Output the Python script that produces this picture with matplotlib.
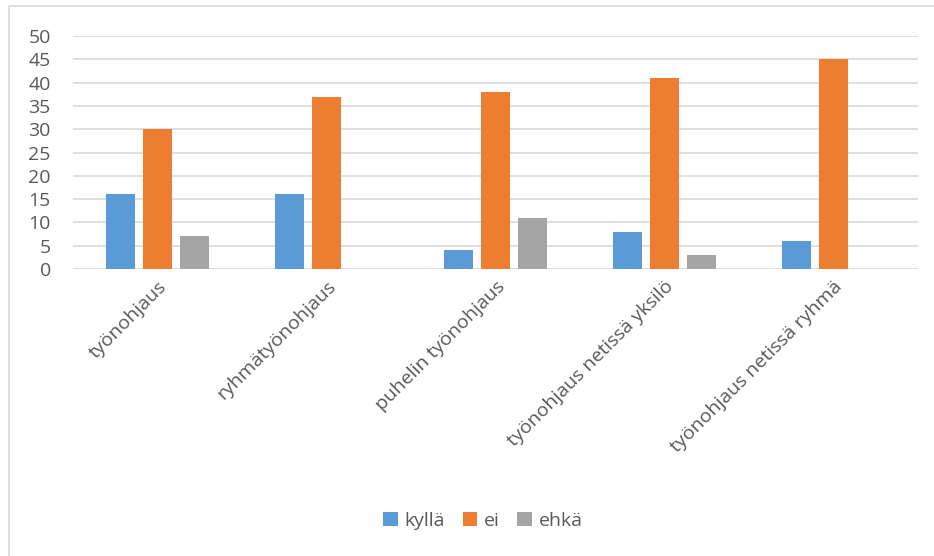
import matplotlib
matplotlib.use("Agg")
import matplotlib.pyplot as plt
import numpy as np
from matplotlib.patches import Rectangle

categories = ["työnohjaus", "ryhmätyönohjaus", "puhelin työnohjaus",
              "työnohjaus netissä yksilö", "työnohjaus netissä ryhmä"]
kylla = [16, 16, 4, 8, 6]
ei = [30, 37, 38, 41, 45]
ehka = [7, 0, 11, 3, 0]
series_names = ["kyllä", "ei", "ehkä"]
colors = ["#5B9BD5", "#ED7D31", "#A5A5A5"]

plt.rcParams['font.family'] = ['Open Sans', 'DejaVu Sans']
txt = "#595959"

fig = plt.figure(figsize=(9.34, 5.56), dpi=100)
ax = fig.add_axes([73/934, 1-269/556, 845/934, 233/556])

x = np.arange(len(categories))
w = 0.172
step = 0.219
for i, (vals, name, c) in enumerate(zip([kylla, ei, ehka], series_names, colors)):
    ax.bar(x + (i-1)*step, vals, width=w, color=c, label=name, zorder=3)

ax.set_xlim(-0.5, len(categories)-0.5)
ax.set_ylim(0, 50)
ax.set_yticks(range(0, 51, 5))
ax.grid(axis='y', color="#D9D9D9", linewidth=1.2, zorder=0)
for s in ax.spines.values():
    s.set_visible(False)
ax.tick_params(axis='y', length=0, labelsize=14, labelcolor=txt, pad=16)
ax.tick_params(axis='x', length=0, labelsize=14, labelcolor=txt, pad=6)
ax.set_xticks(x)
ax.set_xticklabels(categories, rotation=45, ha='right', rotation_mode='anchor')

fig.legend(loc='center', bbox_to_anchor=(483/934, 1-521/556), ncol=3, frameon=False,
           fontsize=14, labelcolor=txt, handlelength=0.75, handleheight=0.75,
           handletextpad=0.35, columnspacing=0.9)

fig.add_artist(Rectangle((9/934, -0.1), 1.1, 1-6/556+0.1, transform=fig.transFigure,
                         fill=False, edgecolor="#D9D9D9", linewidth=1.2))

fig.savefig("out.png", dpi=100, facecolor="white")
